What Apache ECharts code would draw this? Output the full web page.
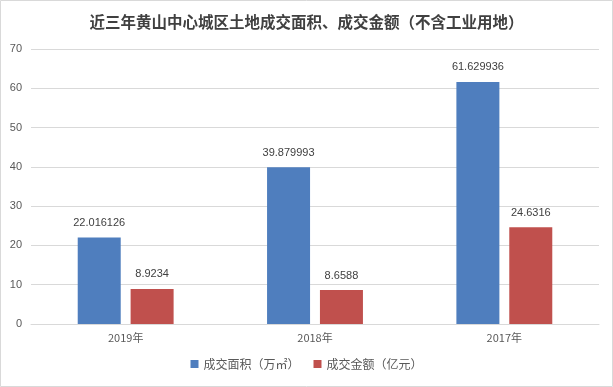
<!DOCTYPE html>
<html><head><meta charset="utf-8">
<script src="https://cdn.jsdelivr.net/npm/echarts@6/dist/echarts.min.js"></script>
<style>html,body{margin:0;padding:0;background:#fff}#c{width:613px;height:387px}</style>
</head><body><div id="c"></div>
<script>
const categories = ['2019年', '2018年', '2017年'];
const areaValues = [22.016126, 39.879993, 61.629936];
const amountValues = [8.9234, 8.6588, 24.6316];
const yTicks = [0, 10, 20, 30, 40, 50, 60, 70];
const seriesNames = ['成交面积（万㎡）', '成交金额（亿元）'];
const titleText = '近三年黄山中心城区土地成交面积、成交金额（不含工业用地）';

const chart = echarts.init(document.getElementById('c'), null, {renderer: 'canvas'});
const font = '"Microsoft YaHei","Noto Sans CJK SC",sans-serif';
const numFont = '"Liberation Sans","Noto Sans CJK SC",sans-serif';
chart.setOption({
  backgroundColor: '#fff',
  animation: false,
  title: {text: titleText, left: 'center', top: 9,
    textStyle: {fontFamily: font, fontSize: 15.5, fontWeight: 'bold', color: '#404040'}},
  legend: {bottom: 12, left: 'center', itemWidth: 8, itemHeight: 8, itemGap: 14,
    icon: 'rect', textStyle: {fontFamily: font, fontSize: 12, color: '#595959'},
    data: seriesNames},
  grid: {left: 31, right: 14, top: 49, bottom: 63, containLabel: false},
  xAxis: {type: 'category', data: categories,
    axisLine: {lineStyle: {color: '#d9d9d9'}}, axisTick: {show: false},
    axisLabel: {color: '#595959', fontFamily: font, fontSize: 11, margin: 8}},
  yAxis: {type: 'value', min: yTicks[0], max: yTicks[yTicks.length - 1], interval: 10,
    axisLine: {show: false}, axisTick: {show: false},
    axisLabel: {color: '#595959', fontFamily: numFont, fontSize: 11, margin: 9},
    splitLine: {lineStyle: {color: '#d9d9d9'}}},
  series: [
    {name: seriesNames[0], type: 'bar', data: areaValues, barWidth: 43, barGap: '23%',
      itemStyle: {color: '#4F7EBE'},
      label: {show: true, position: 'top', distance: 9, color: '#404040', fontFamily: numFont, fontSize: 11}},
    {name: seriesNames[1], type: 'bar', data: amountValues, barWidth: 43,
      itemStyle: {color: '#C0504D'},
      label: {show: true, position: 'top', distance: 9, color: '#404040', fontFamily: numFont, fontSize: 11}}
  ],
  graphic: [{type: 'rect', shape: {x: 0.5, y: 0.5, width: 612, height: 386},
    style: {fill: null, stroke: '#d9d9d9', lineWidth: 1}, silent: true}]
});
</script></body></html>
